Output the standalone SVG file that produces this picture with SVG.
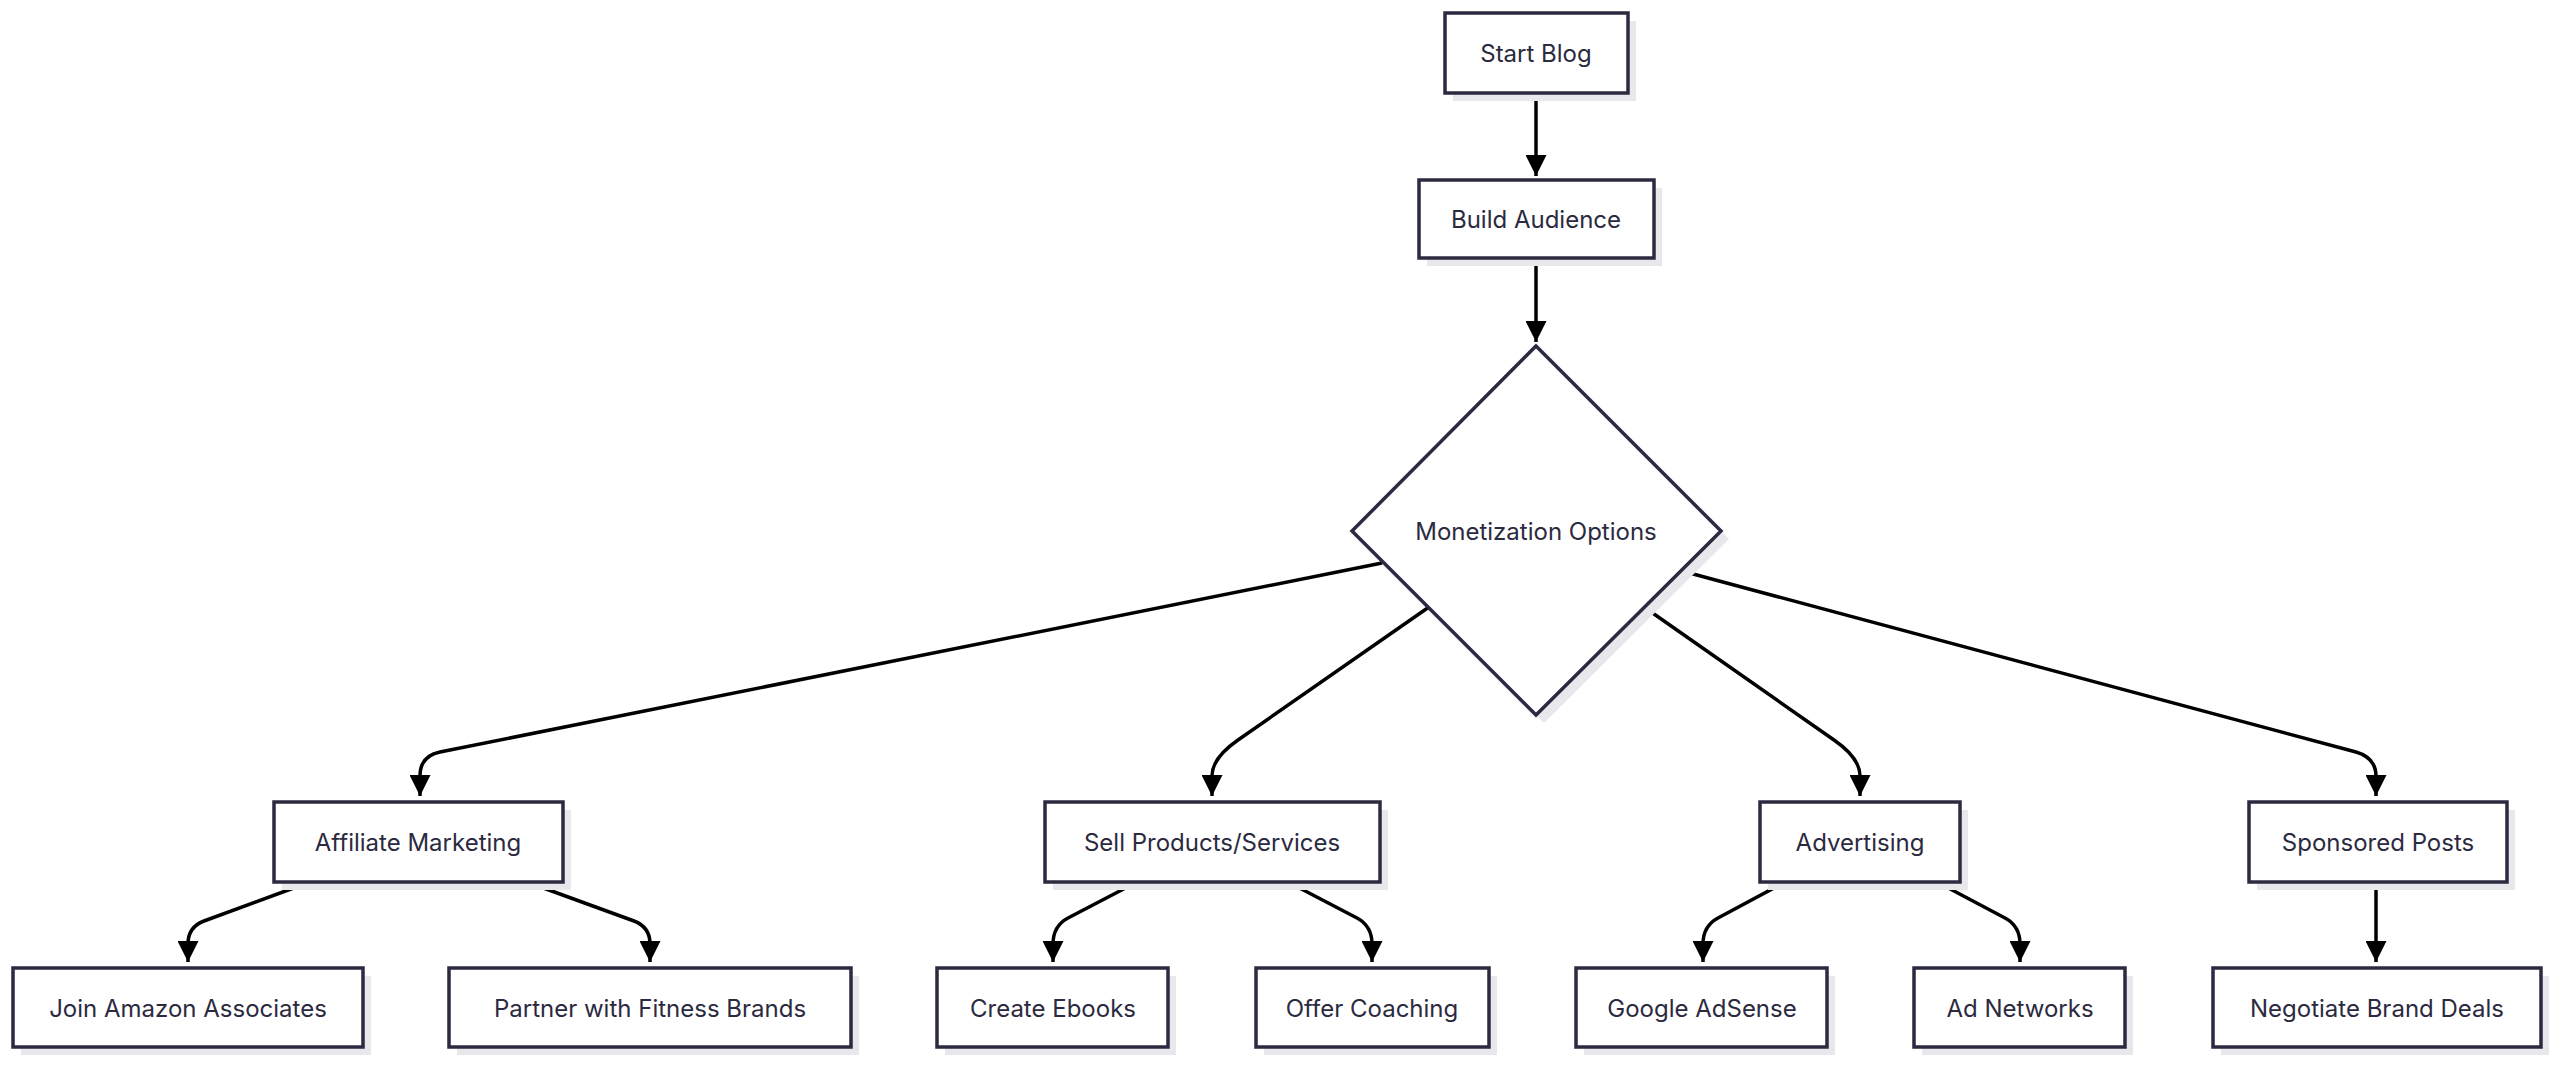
<svg xmlns="http://www.w3.org/2000/svg" width="2560" height="1065" viewBox="0 0 2560 1065">
<style>
.n rect,.n polygon{fill:#fff;stroke:#2b2a40;stroke-width:3.5}
.sh{fill:#e8e8ec}
.n text{font-family:Inter,"Noto Sans",sans-serif;font-size:24px;fill:#2b2a40;text-anchor:middle;dominant-baseline:central}
.e path{fill:none;stroke:#000;stroke-width:3.5}
</style>
<defs>
<marker id="a" viewBox="0 0 10 10" refX="10" refY="5" markerWidth="6" markerHeight="6" markerUnits="strokeWidth" orient="auto"><path d="M0,0L10,5L0,10z" fill="#000"/></marker>
</defs>
<rect width="2560" height="1065" fill="#fff"/>
<g class="e" marker-end="url(#a)">
<path d="M1536,93V176" marker-end="url(#a)"/>
<path d="M1536,258V342" marker-end="url(#a)"/>
<path d="M1382,563L440,752Q420,756,420,776V796" marker-end="url(#a)"/>
<path d="M1429,607L1238,740Q1212,758,1212,776V796" marker-end="url(#a)"/>
<path d="M1644,607L1834,740Q1860,758,1860,776V796" marker-end="url(#a)"/>
<path d="M1682,571L2356,752Q2376,758,2376,776V796" marker-end="url(#a)"/>
<path d="M310,882L204,921Q188,927,188,944V962" marker-end="url(#a)"/>
<path d="M527,882L634,921Q650,927,650,944V962" marker-end="url(#a)"/>
<path d="M1137,882L1068,918Q1053,926,1053,944V962" marker-end="url(#a)"/>
<path d="M1288,882L1357,918Q1372,926,1372,944V962" marker-end="url(#a)"/>
<path d="M1785,882L1718,918Q1703,926,1703,944V962" marker-end="url(#a)"/>
<path d="M1937,882L2005,918Q2020,926,2020,944V962" marker-end="url(#a)"/>
<path d="M2376,882V962" marker-end="url(#a)"/>
</g>
<g id="start" class="n"><rect class="sh" x="1453" y="21" width="183" height="80" style="stroke:none;fill:#e8e8ec"/><rect x="1445" y="13" width="183" height="80"/><text x="1536" y="53">Start Blog</text></g>
<g id="build" class="n"><rect x="1427" y="188" width="235" height="78" style="stroke:none;fill:#e8e8ec"/><rect x="1419" y="180" width="235" height="78"/><text x="1536" y="219">Build Audience</text></g>
<g id="mon" class="n"><polygon points="1544,354 1729,539 1544,723 1360,539" style="stroke:none;fill:#e8e8ec"/><polygon points="1536,346 1721,531 1536,715 1352,531"/><text x="1536" y="531">Monetization Options</text></g>
<g id="aff" class="n"><rect x="282" y="810" width="289" height="80" style="stroke:none;fill:#e8e8ec"/><rect x="274" y="802" width="289" height="80"/><text x="418" y="842">Affiliate Marketing</text></g>
<g id="sell" class="n"><rect x="1053" y="810" width="335" height="80" style="stroke:none;fill:#e8e8ec"/><rect x="1045" y="802" width="335" height="80"/><text x="1212" y="842">Sell Products/Services</text></g>
<g id="adv" class="n"><rect x="1768" y="810" width="200" height="80" style="stroke:none;fill:#e8e8ec"/><rect x="1760" y="802" width="200" height="80"/><text x="1860" y="842">Advertising</text></g>
<g id="spon" class="n"><rect x="2257" y="810" width="258" height="80" style="stroke:none;fill:#e8e8ec"/><rect x="2249" y="802" width="258" height="80"/><text x="2378" y="842">Sponsored Posts</text></g>
<g id="join" class="n"><rect x="21" y="976" width="350" height="79" style="stroke:none;fill:#e8e8ec"/><rect x="13" y="968" width="350" height="79"/><text x="188" y="1008">Join Amazon Associates</text></g>
<g id="partner" class="n"><rect x="457" y="976" width="402" height="79" style="stroke:none;fill:#e8e8ec"/><rect x="449" y="968" width="402" height="79"/><text x="650" y="1008">Partner with Fitness Brands</text></g>
<g id="ebooks" class="n"><rect x="945" y="976" width="231" height="79" style="stroke:none;fill:#e8e8ec"/><rect x="937" y="968" width="231" height="79"/><text x="1053" y="1008">Create Ebooks</text></g>
<g id="coach" class="n"><rect x="1264" y="976" width="233" height="79" style="stroke:none;fill:#e8e8ec"/><rect x="1256" y="968" width="233" height="79"/><text x="1372" y="1008">Offer Coaching</text></g>
<g id="google" class="n"><rect x="1584" y="976" width="251" height="79" style="stroke:none;fill:#e8e8ec"/><rect x="1576" y="968" width="251" height="79"/><text x="1702" y="1008">Google AdSense</text></g>
<g id="adnet" class="n"><rect x="1922" y="976" width="211" height="79" style="stroke:none;fill:#e8e8ec"/><rect x="1914" y="968" width="211" height="79"/><text x="2020" y="1008">Ad Networks</text></g>
<g id="neg" class="n"><rect x="2221" y="976" width="328" height="79" style="stroke:none;fill:#e8e8ec"/><rect x="2213" y="968" width="328" height="79"/><text x="2377" y="1008">Negotiate Brand Deals</text></g>
</svg>
